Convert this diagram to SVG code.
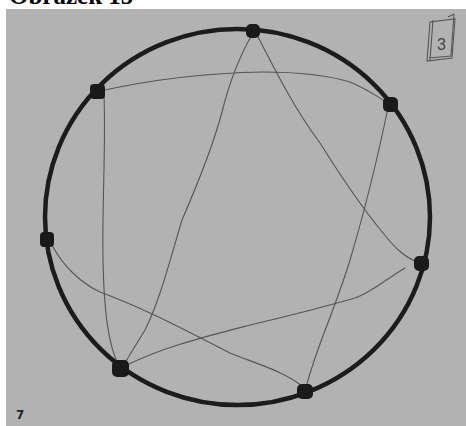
<svg xmlns="http://www.w3.org/2000/svg" width="466" height="426" viewBox="0 0 466 426">
<style>
.node{fill:#1a1a1a}
.edge{fill:none;stroke:#555;stroke-width:1.1;stroke-linecap:round}
.sk{fill:none;stroke:#555;stroke-width:1.1}
</style>
<rect width="466" height="426" fill="#ffffff"/>
<text x="9" y="4" font-family="Liberation Serif, serif" font-weight="bold" font-size="25" fill="#000">Obrázek 15</text>
<rect x="6" y="9" width="460" height="417" fill="#b2b2b2"/>
<ellipse cx="237.5" cy="217" rx="192.5" ry="188" fill="none" stroke="#1c1c1c" stroke-width="4.5"/>
<g id="connectors">
<path class="edge" d="M253,33 C240,55 230,80 222,112 C212,150 195,190 182,220 C170,260 160,300 145,330 L123,366"/>
<path class="edge" d="M256,33 C275,70 295,110 320,143 C340,175 360,205 383,233 C395,248 405,258 420,263"/>
<path class="edge" d="M100,91 C150,80 200,73 263,72 C300,72 330,76 350,82 C365,88 375,95 388,103"/>
<path class="edge" d="M104,94 C106,150 102,200 103,260 C104,310 108,345 119,366"/>
<path class="edge" d="M388,108 C375,170 362,220 350,260 C335,310 315,350 306,388"/>
<path class="edge" d="M52,245 C65,270 85,285 100,292 C140,307 170,322 230,353 C260,365 285,372 302,386"/>
<path class="edge" d="M405,268 C385,280 370,293 355,298 C320,308 280,318 250,325 C200,338 160,348 125,366"/>
</g>
<g id="n-top"><rect class="node" x="246" y="24" width="14" height="14" rx="5"/></g>
<g id="n-upper-left"><rect class="node" x="90" y="84" width="15" height="15" rx="4"/></g>
<g id="n-upper-right"><rect class="node" x="383" y="97" width="15" height="15" rx="5"/></g>
<g id="n-left"><rect class="node" x="40" y="232" width="14" height="15" rx="4"/></g>
<g id="n-right"><rect class="node" x="414" y="256" width="15" height="15" rx="5"/></g>
<g id="n-bottom-left"><rect class="node" x="112" y="360" width="17" height="17" rx="5"/></g>
<g id="n-bottom-right"><rect class="node" x="297" y="384" width="16" height="15" rx="5"/></g>
<g id="box3">
<path class="sk" d="M430,22 L455,19 L452,58 L427,61 Z"/>
<path class="sk" d="M433,20 L430,60 M448,17 L454,14 M429,58 L451,56 L454,14"/>
<text x="437" y="50" font-family="Liberation Sans, sans-serif" font-size="16" fill="#444">3</text>
</g>
<text x="16" y="419" font-family="DejaVu Sans, sans-serif" font-weight="bold" font-size="12" fill="#222">7</text>
</svg>
